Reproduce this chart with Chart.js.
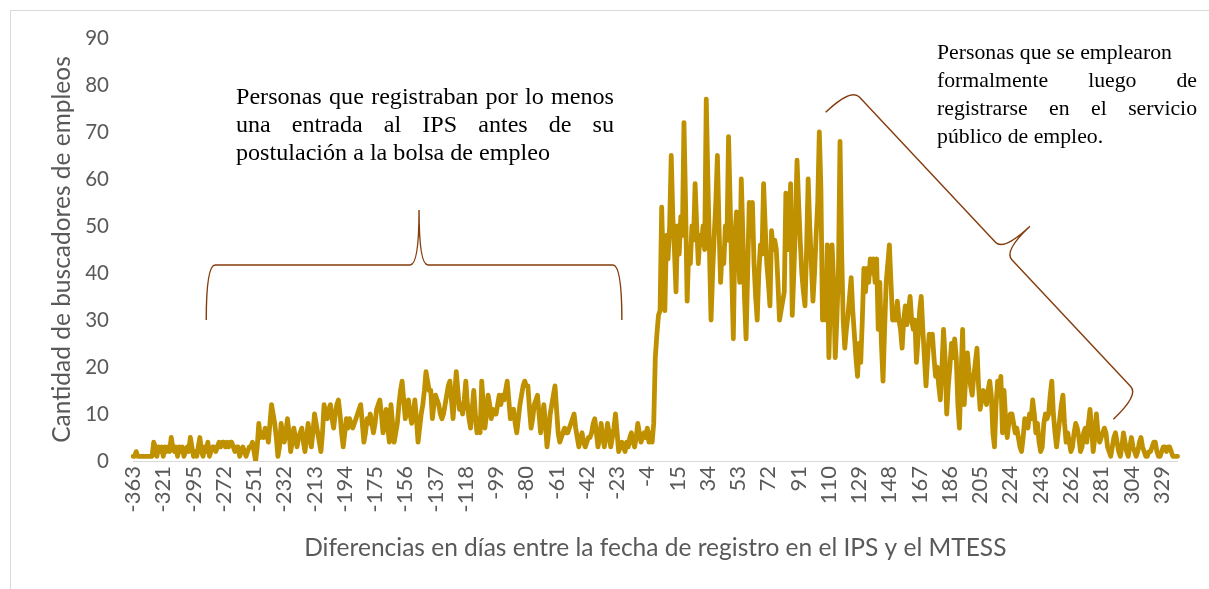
<!DOCTYPE html>
<html><head><meta charset="utf-8">
<script src="https://cdn.jsdelivr.net/npm/chart.js@4.4.1/dist/chart.umd.min.js"></script>
<style>html,body{margin:0;padding:0;background:#fff;}canvas{display:block;}</style>
</head><body>
<canvas id="c" width="1209" height="589"></canvas>
<script>
// Tick labels shown on the x axis (one every 19 categories)
const tickDays = [-363,-321,-295,-272,-251,-232,-213,-194,-175,-156,-137,-118,-99,-80,-61,-42,-23,-4,15,34,53,72,91,110,129,148,167,186,205,224,243,262,281,304,329];

// Job seekers per day, split in segments
const valuesA = [1,1,2,1,1,1,1,1,1,1, 1,1,1,4,3,1,3,2,3,1, 3,2,3,2,5,3,2,3,1,3, 2,3,1,2,3,2,5,3,1,2, 1,3,5,2,1,3,2,4,1,2, 3,
  3,2,3,4,3,4,4,3,4,3, 4,4,3,2,3,3,1,2,3,2, 1,2,3,3,4,2,0,3,8,5, 6,5,7,6,4,8,12,10,8,5, 1,3,8,6,4,6,9,6,2,4, 7,5,3,5,6,7];
const valuesB = [4,2,5,8,5,3,6,10,8,6, 4,2,6,12,10,9,11,12,9,7, 10,12,13,10,6,3,6,9,7,9, 8,7,8,9,10,11,12,8,4,6, 9,8,10,8,6,8,11,12,13,10, 6,8,11,7,4,
  12,8,4,6,8,12,15,17,13,9, 11,13,10,8,10,13,9,4,7,10, 12,15,19,17,15,15,9,12,14,13, 12,10,9,10,12,14,16,17,13,9, 14,19,15,11,12,10,13,17,12,9, 7,11,15,10,6,9];
const valuesC = [6,17,12,7,10,14,12,9,11,10, 10,12,14,12,14,13,15,17,13,9, 10,11,8,6,9,12,14,16,17,16, 16,11,7,9,12,13,14,10,6,9, 12,8,3,6,10,12,14,16,11,6, 4,5,6,7,6,
  6,7,8,9,10,7,5,3,5,6, 4,3,4,5,5,6,8,9,6,3, 5,8,5,3,5,8,6,3,5,7, 10,6,2,3,4,3,2,4,3,5, 6,4,3,5,8,6,4,5,6,5, 7,4,6,4];
const valuesD = [8,22,27,31,32,54,41,32,48,43, 50,65,52,45,36,50,44,52,48,72, 55,34,45,42,50,47,59,50,42,48, 46,50,45,77,60,45,30,40,48,55,
  65,50,38,45,42,50,47,69,55,40, 26,48,53,45,38,60,48,35,26,40, 55,48,55,42,35,30,40,46,44,59, 50,42,38,33,49,45,47,45,38,30,
  32,34,36,57,45,50,59,31,40,50, 64,55,47,40,36,33,45,60,50,42, 34,40,48,55,70,58,30,38,30,46, 22,35,46,38];
const valuesE = [22,30,40,68,45,30,24,28,31,35, 39,32,27,22,18,25,21,30,41,36, 41,38,43,40,43,38,43,28,38,25, 17,28,38,42,46,38,30,32,30,34,
  30,28,24,30,33,29,32,35,30,28, 30,21,26,32,35,28,22,16,22,27, 25,27,22,18,20,16,13,20,28,22, 10,16,20,25,22,26,22,12,7,18,
  28,12,18,23,19,16,14,18,21,24, 16,11,13,15,14,12,15,17,14,6, 3,12,17,14,18,6,15,9,5,8];
const valuesF = [10,10,8,6,7,5,3,2,5,9, 8,7,10,9,13,10,6,8,4,2, 3,8,10,9,10,14,17,10,6,3, 6,9,12,14,8,4,6,4,2,3,
  6,8,7,5,2,3,6,7,4,8, 11,7,2,5,10,6,4,5,6,7, 6,3,2,1,3,5,6,4,2,1, 3,6,4,2,1,3,5,3,2,1,
  2,4,5,3,2,1,1,2,2,3, 4,4,2,1,1,2,3,3,2,3, 3,2,1,1,1,1];

const xTitle = 'Diferencias en días entre la fecha de registro en el IPS y el MTESS';
const yTitle = 'Cantidad de buscadores de empleos';
const leftNote = ['Personas que registraban por lo menos','una entrada al IPS antes de su','postulación a la bolsa de empleo'];
const rightNote = ['Personas que se emplearon','formalmente luego de','registrarse en el servicio','público de empleo.'];

const TICK_EVERY = 19;
const values = [...valuesA, ...valuesB, ...valuesC, ...valuesD, ...valuesE, ...valuesF];
const days = [];
for (let k = 0; k < tickDays.length - 1; k++) {
  const a = tickDays[k], b = tickDays[k + 1];
  for (let j = 0; j < TICK_EVERY; j++) days.push(a + Math.round(j * (b - a) / TICK_EVERY));
}
const lastTick = tickDays[tickDays.length - 1];
const base = days.length;
while (days.length < values.length) days.push(lastTick + (days.length - base));

// Brace annotations (anchor points in data coordinates: [category index, value])
const braces = [
  {from: [46, 41.7], to: [307, 41.7], mid: 0.512, hook: 55, tip: 55, r: 9},
  {from: [451, 79.3], to: [631.7, 14.0], mid: 0.53, hook: 35, tip: 36, r: 12}
];

const GRAY = '#595959';
const BRACE = '#843C0C';
const SERIF = '"Liberation Serif", "Times New Roman", serif';

function drawLine(ctx, words, x, y, width, justify) {
  if (!justify || words.length < 2) { ctx.fillText(words.join(' '), x, y); return; }
  const ws = words.map(w => ctx.measureText(w).width);
  const sum = ws.reduce((a, b) => a + b, 0);
  const gap = Math.max((width - sum) / (words.length - 1), 3);
  let cx = x;
  words.forEach((w, i) => { ctx.fillText(w, cx, y); cx += ws[i] + gap; });
}
// font size so that a reference line has a given natural width
function fitSize(ctx, text, width) {
  ctx.font = '20px ' + SERIF;
  return 20 * width / ctx.measureText(text).width;
}

const annotations = {
  id: 'annotations',
  beforeDraw(chart) {
    const ctx = chart.ctx;
    ctx.save();
    ctx.fillStyle = '#fff';
    ctx.fillRect(0, 0, chart.width, chart.height);
    ctx.strokeStyle = '#D9D9D9';
    ctx.lineWidth = 1;
    ctx.strokeRect(10.5, 10.5, 1300, 700);
    ctx.restore();
  },
  afterDraw(chart) {
    const ctx = chart.ctx;
    const xs = chart.scales.x, ys = chart.scales.y;
    ctx.save();
    ctx.strokeStyle = BRACE;
    ctx.lineWidth = 1.4;
    braces.forEach(b => {
      const A = {x: xs.getPixelForValue(b.from[0]), y: ys.getPixelForValue(b.from[1])};
      const B = {x: xs.getPixelForValue(b.to[0]), y: ys.getPixelForValue(b.to[1])};
      const L = Math.hypot(B.x - A.x, B.y - A.y);
      const u = {x: (B.x - A.x) / L, y: (B.y - A.y) / L};
      const n = {x: u.y, y: -u.x};
      const M = {x: A.x + (B.x - A.x) * b.mid, y: A.y + (B.y - A.y) * b.mid};
      const p = (P, v, s) => [P.x + v.x * s, P.y + v.y * s];
      ctx.beginPath();
      ctx.moveTo(...p(A, n, -b.hook));
      ctx.quadraticCurveTo(A.x, A.y, ...p(A, u, b.r));
      ctx.lineTo(...p(M, u, -b.r));
      ctx.quadraticCurveTo(M.x, M.y, ...p(M, n, b.tip));
      ctx.quadraticCurveTo(M.x, M.y, ...p(M, u, b.r));
      ctx.lineTo(...p(B, u, -b.r));
      ctx.quadraticCurveTo(B.x, B.y, ...p(B, n, -b.hook));
      ctx.stroke();
    });
    ctx.fillStyle = '#000';
    ctx.textBaseline = 'alphabetic';
    ctx.textAlign = 'left';
    const ls = Math.min(fitSize(ctx, leftNote[2], 314), fitSize(ctx, leftNote[0], 372));
    ctx.font = ls.toFixed(2) + 'px ' + SERIF;
    leftNote.forEach((line, i) => drawLine(ctx, line.split(' '), 236, 104 + i * 28, 378, i < leftNote.length - 1));
    const rs = fitSize(ctx, rightNote[0], 235);
    ctx.font = rs.toFixed(2) + 'px ' + SERIF;
    rightNote.forEach((line, i) => drawLine(ctx, line.split(' '), 937, 59 + i * 28, 260, i === 1 || i === 2));
    ctx.restore();
  }
};

new Chart(document.getElementById('c'), {
  type: 'line',
  data: {
    labels: days,
    datasets: [{
      data: values,
      borderColor: '#BF9000',
      borderWidth: 4.8,
      pointRadius: 0,
      tension: 0,
      borderJoinStyle: 'round',
      borderCapStyle: 'round',
      fill: false
    }]
  },
  options: {
    responsive: false,
    animation: false,
    devicePixelRatio: 1,
    layout: {padding: {left: 0, top: 38, right: 20, bottom: 0}},
    plugins: {legend: {display: false}, tooltip: {enabled: false}},
    scales: {
      x: {
        type: 'category',
        offset: false,
        grid: {display: false, drawTicks: false},
        border: {display: true, color: '#D9D9D9', width: 1},
        ticks: {
          autoSkip: false, minRotation: 90, maxRotation: 90, padding: 5,
          color: GRAY, font: {family: 'Lato', size: 22},
          callback: function (v, i) { return i % TICK_EVERY === 0 ? String(this.getLabelForValue(v)) : ''; }
        },
        title: {display: true, text: xTitle, color: GRAY, font: {family: 'Lato', size: 24.5}, padding: {top: 0, bottom: 26}},
        afterFit: s => { s.height = 128; }
      },
      y: {
        min: 0, max: 90,
        grid: {display: false, drawTicks: false},
        border: {display: false},
        ticks: {stepSize: 10, padding: 24, color: GRAY, font: {family: 'Lato', size: 20.5}},
        title: {display: true, text: yTitle, color: GRAY, font: {family: 'Lato', size: 24.5}, padding: {top: 47, bottom: 0}},
        afterFit: s => { s.width = 133; }
      }
    }
  },
  plugins: [annotations]
});
</script>
</body></html>
